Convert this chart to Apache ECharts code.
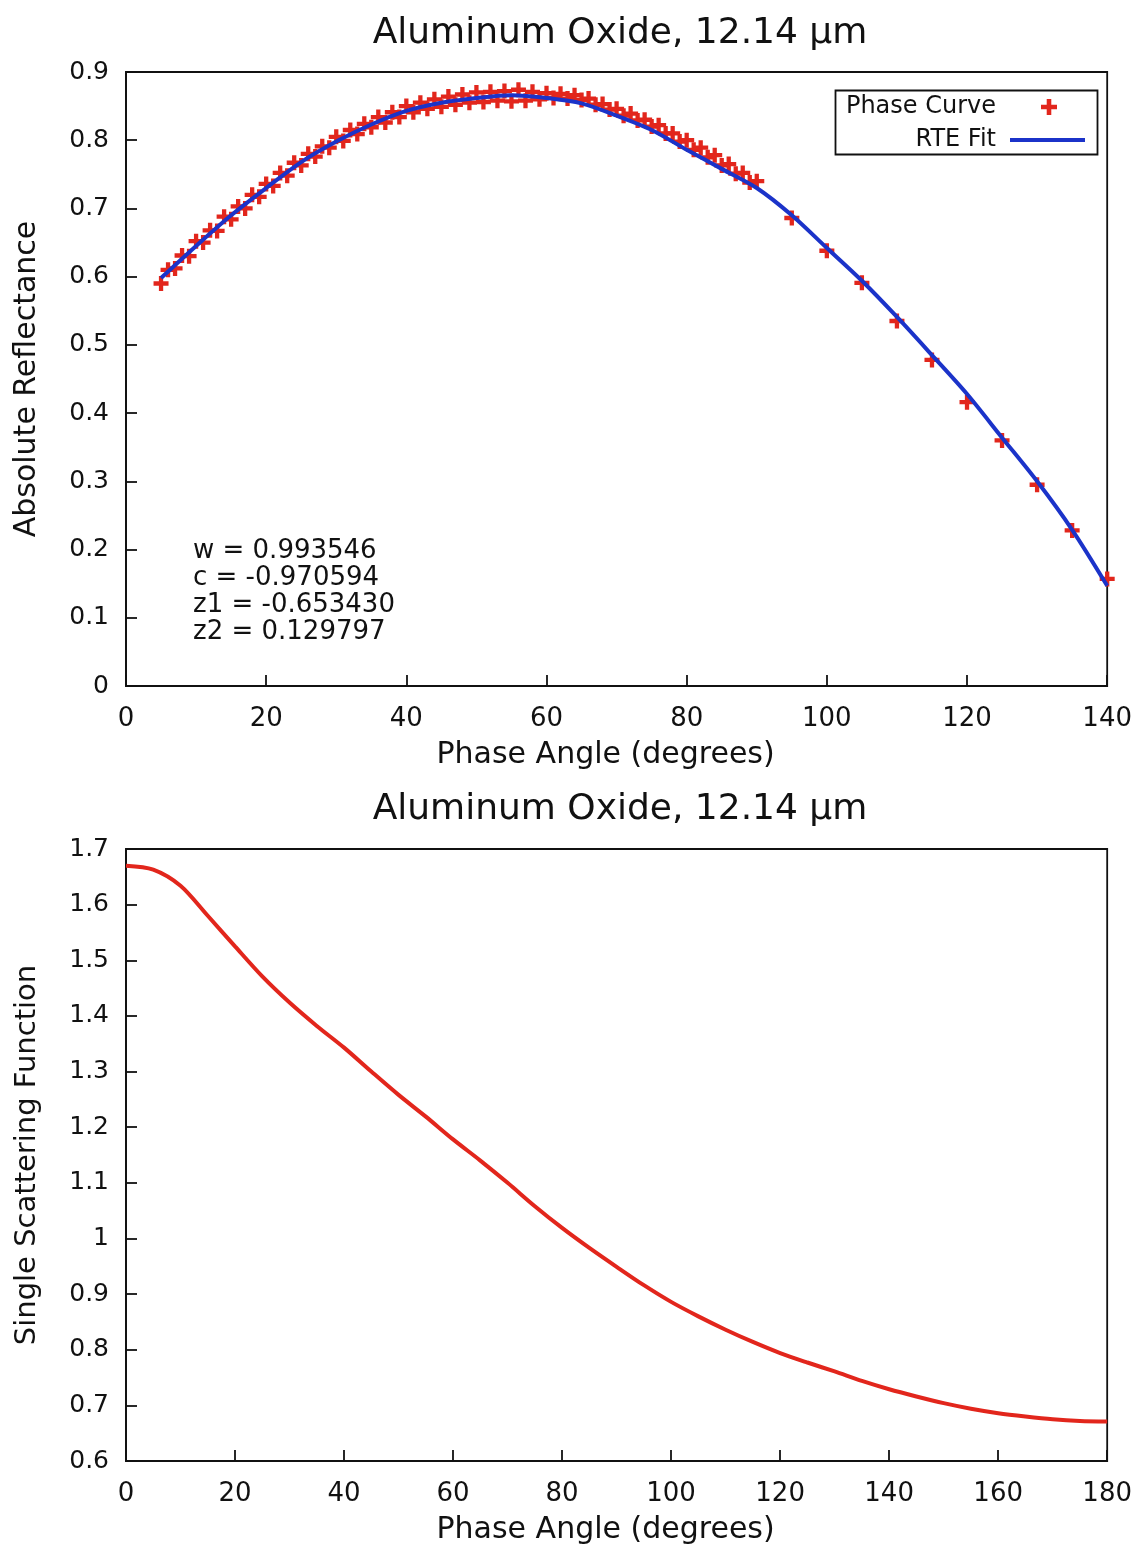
<!DOCTYPE html>
<html>
<head>
<meta charset="utf-8">
<script src="https://cdn.jsdelivr.net/npm/echarts@6/dist/echarts.min.js"></script>
<style>
html,body{margin:0;padding:0;background:#fff;}
#main{width:1135px;height:1550px;}
</style>
</head>
<body>
<div id="main"></div>
<script>
// ---- Top panel: phase curve (dense 1-degree part) ----
var phaseDenseAngles = [5,6,7,8,9,10,11,12,13,14,15,16,17,18,19,20,21,22,23,24,25,26,27,28,29,30,31,32,33,34,35,36,37,38,39,40,41,42,43,44,45,46,47,48,49,50,51,52,53,54,55,56,57,58,59,60,61,62,63,64,65,66,67,68,69,70,71,72,73,74,75,76,77,78,79,80,81,82,83,84,85,86,87,88,89,90];
var phaseDenseValues = [0.590,0.610,0.612,0.631,0.630,0.652,0.650,0.668,0.667,0.688,0.684,0.703,0.700,0.720,0.717,0.736,0.733,0.752,0.748,0.767,0.763,0.780,0.776,0.791,0.789,0.805,0.799,0.815,0.809,0.824,0.819,0.834,0.826,0.841,0.834,0.850,0.841,0.855,0.846,0.860,0.849,0.864,0.852,0.867,0.855,0.870,0.856,0.871,0.858,0.872,0.857,0.874,0.858,0.871,0.860,0.869,0.862,0.868,0.861,0.866,0.859,0.861,0.852,0.853,0.845,0.846,0.836,0.839,0.829,0.830,0.820,0.822,0.810,0.810,0.798,0.800,0.786,0.789,0.775,0.778,0.763,0.765,0.751,0.752,0.738,0.740];
// sparse part (5-degree steps)
var phaseSparseAngles = [95,100,105,110,115,120,125,130,135,140];
var phaseSparseValues = [0.686,0.638,0.591,0.535,0.478,0.416,0.360,0.295,0.228,0.157];
// RTE fit
var fitAngles = [5,10,15,20,25,30,35,40,45,50,55,60,65,70,75,80,85,90,95,100,105,110,115,120,125,130,135,140];
var fitValues = [0.598,0.645,0.690,0.730,0.768,0.798,0.823,0.843,0.855,0.862,0.866,0.862,0.854,0.836,0.815,0.786,0.758,0.730,0.690,0.642,0.594,0.541,0.485,0.428,0.364,0.300,0.229,0.147];
// ---- Bottom panel: single scattering function ----
var ssfAngles = [0,5,10,15,20,25,30,35,40,45,50,55,60,65,70,75,80,85,90,95,100,105,110,115,120,125,130,135,140,145,150,155,160,165,170,175,180];
var ssfValues = [1.670,1.663,1.634,1.580,1.525,1.471,1.424,1.382,1.343,1.300,1.258,1.219,1.178,1.140,1.100,1.058,1.019,0.983,0.949,0.916,0.886,0.860,0.836,0.814,0.794,0.777,0.761,0.744,0.729,0.716,0.704,0.694,0.686,0.680,0.675,0.672,0.671];
// tick settings
var topXTicks = {min:0,max:140,interval:20};
var topYTicks = {min:0,max:0.9,interval:0.1};
var botXTicks = {min:0,max:180,interval:20};
var botYTicks = {min:0.6,max:1.7,interval:0.1};
var titleText = 'Aluminum Oxide, 12.14 \u00b5m';
var fitParams = ['w = 0.993546','c = -0.970594','z1 = -0.653430','z2 = 0.129797'];

function zip(a,b){return a.map(function(x,i){return [x,b[i]];});}
var phaseData = zip(phaseDenseAngles,phaseDenseValues).concat(zip(phaseSparseAngles,phaseSparseValues));

var RED = '#e2261c', BLUE = '#1b33c9';
var FONT = 'DejaVu Sans';
var plusPath = 'path://M5,0H9V5H14V9H9V14H5V9H0V5H5Z';

function xAx(gi,t){
  return {gridIndex:gi,type:'value',min:t.min,max:t.max,interval:t.interval,
    name:'Phase Angle (degrees)',nameLocation:'middle',nameGap:54,
    nameTextStyle:{fontFamily:FONT,fontSize:30,color:'#111',padding:[0,22,0,0]},
    axisLine:{show:true,onZero:false,lineStyle:{color:'#111',width:1.8}},
    axisTick:{show:true,inside:true,length:11,lineStyle:{color:'#111',width:1.8}},
    axisLabel:{fontFamily:FONT,fontSize:26,color:'#111',margin:20},
    splitLine:{show:false}};
}
function yAx(gi,t,name,fs){
  return {gridIndex:gi,type:'value',min:t.min,max:t.max,interval:t.interval,
    name:name,nameLocation:'middle',nameGap:84,
    nameTextStyle:{fontFamily:FONT,fontSize:fs,color:'#111'},
    axisLine:{show:true,onZero:false,lineStyle:{color:'#111',width:1.8}},
    axisTick:{show:true,inside:true,length:11,lineStyle:{color:'#111',width:1.8}},
    axisLabel:{fontFamily:FONT,fontSize:25,color:'#111',margin:17},
    splitLine:{show:false}};
}
var legendText = {fontFamily:FONT,fontSize:24,color:'#111'};
var titleStyle = {fontFamily:FONT,fontSize:36,fontWeight:'normal',color:'#111'};

var chart = echarts.init(document.getElementById('main'),null,{renderer:'canvas'});
chart.setOption({
  backgroundColor:'#fff',
  animation:false,
  title:[
    {text:titleText,left:615,textAlign:'center',top:11,textStyle:titleStyle},
    {text:titleText,left:615,textAlign:'center',top:787,textStyle:titleStyle}
  ],
  grid:[
    {left:126,right:27,top:72,height:614,show:true,borderColor:'#111',borderWidth:1.8,backgroundColor:'transparent'},
    {left:126,right:27,top:849,height:612,show:true,borderColor:'#111',borderWidth:1.8,backgroundColor:'transparent'}
  ],
  xAxis:[xAx(0,topXTicks),xAx(1,botXTicks)],
  yAxis:[yAx(0,topYTicks,'Absolute Reflectance',30),yAx(1,botYTicks,'Single Scattering Function',29)],
  legend:[
    {show:true,orient:'vertical',right:78,top:95,align:'right',padding:0,
     itemWidth:16,itemHeight:16,
     textStyle:Object.assign({padding:[0,40,0,0]},legendText),
     data:[{name:'Phase Curve',icon:plusPath,itemStyle:{color:RED}}]},
    {show:true,orient:'vertical',right:50,top:128,align:'right',padding:0,
     itemWidth:75,itemHeight:4,
     textStyle:Object.assign({padding:[0,9,0,0]},legendText),
     data:[{name:'RTE Fit',icon:'rect',itemStyle:{color:BLUE}}]}
  ],
  graphic:[
    {type:'rect',left:833,top:88,shape:{width:262,height:64},style:{fill:'none',stroke:'#111',lineWidth:1.8},silent:true},
    {type:'group',left:193,top:538,
     children:fitParams.map(function(s,i){
       return {type:'text',left:0,top:i*27,style:{text:s,fontFamily:FONT,fontSize:26,fill:'#111'}};
     })}
  ],
  series:[
    {name:'Phase Curve',type:'scatter',xAxisIndex:0,yAxisIndex:0,data:phaseData,
     symbol:plusPath,symbolSize:15,itemStyle:{color:RED,opacity:1},z:2},
    {name:'RTE Fit',type:'line',xAxisIndex:0,yAxisIndex:0,data:zip(fitAngles,fitValues),
     smooth:0.3,showSymbol:false,symbol:'none',lineStyle:{color:BLUE,width:4},itemStyle:{color:BLUE},z:3},
    {name:'SSF',type:'line',xAxisIndex:1,yAxisIndex:1,data:zip(ssfAngles,ssfValues),
     smooth:0.3,showSymbol:false,symbol:'none',lineStyle:{color:RED,width:4},itemStyle:{color:RED},z:3}
  ]
});
</script>
</body>
</html>
